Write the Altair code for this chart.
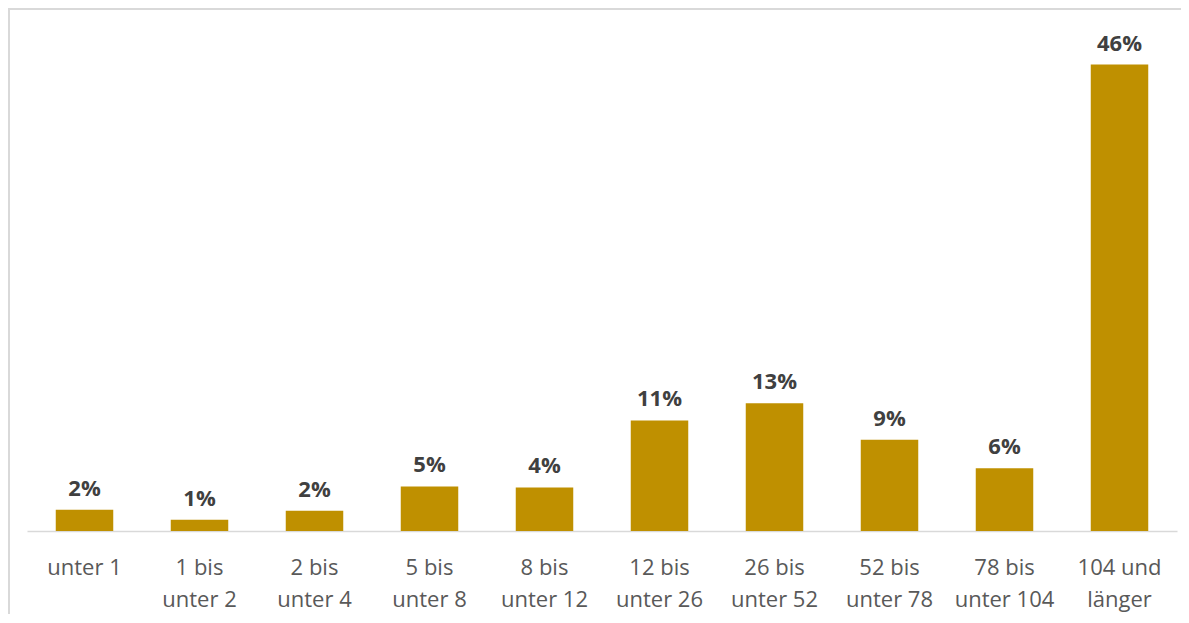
import altair as alt
import pandas as pd

categories = ["unter 1", "1 bis\nunter 2", "2 bis\nunter 4", "5 bis\nunter 8", "8 bis\nunter 12",
              "12 bis\nunter 26", "26 bis\nunter 52", "52 bis\nunter 78", "78 bis\nunter 104",
              "104 und\nlänger"]
values = [2.1, 1.1, 2.0, 4.4, 4.3, 10.9, 12.6, 9.0, 6.2, 46.0]
labels = ["2%", "1%", "2%", "5%", "4%", "11%", "13%", "9%", "6%", "46%"]

df = pd.DataFrame({"cat": categories, "val": values, "lab": labels})

FONT = "Open Sans"

x = alt.X("cat:N", sort=categories, title=None,
          scale=alt.Scale(paddingInner=0.5, paddingOuter=0.25),
          axis=alt.Axis(labelAngle=0, labelExpr="split(datum.label, '\\n')",
                        labelFont=FONT, labelFontSize=22, labelColor="#595959",
                        labelLineHeight=32, labelPadding=26, labelBaseline="top",
                        ticks=False, domainColor="#d9d9d9", domainWidth=1.5,
                        grid=False))
y = alt.Y("val:Q", title=None, scale=alt.Scale(domain=[0, 50]), axis=None)

bars = alt.Chart(df).mark_bar(color="#BF9000").encode(x=x, y=y)
text = alt.Chart(df).mark_text(font=FONT, fontSize=22, fontWeight="bold", color="#404040",
                               baseline="alphabetic", dy=-14).encode(x=x, y=y, text="lab:N")

frame_top = alt.Chart(df).mark_rule(color="#d9d9d9", strokeWidth=2).encode(
    x=alt.value(-19), x2=alt.value(1160), y=alt.value(-15))
frame_left = alt.Chart(df).mark_rule(color="#d9d9d9", strokeWidth=2).encode(
    x=alt.value(-18), y=alt.value(-16), y2=alt.value(620))

chart = alt.layer(frame_top, frame_left, bars, text).properties(
    width=1150, height=507,
    padding={"left": 19, "top": 16, "right": 4, "bottom": 83},
    autosize=alt.AutoSizeParams(type="none"),
).configure_view(stroke=None)

chart.save("out.html", embed_options={"renderer": "svg", "actions": False})
